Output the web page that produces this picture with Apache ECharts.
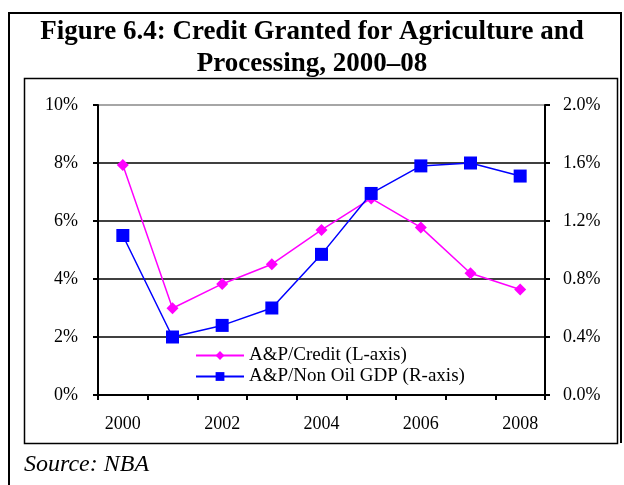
<!DOCTYPE html>
<html>
<head>
<meta charset="utf-8">
<script src="https://cdn.jsdelivr.net/npm/echarts@6/dist/echarts.min.js"></script>
<style>
	html, body { margin: 0; padding: 0; background: #fff; }
	#main { width: 624px; height: 485px; }
</style>
</head>
<body>
<div id="main"></div>
<script>
// data
var years = ['2000', '2001', '2002', '2003', '2004', '2005', '2006', '2007', '2008'];
var creditShare = [7.93, 2.99, 3.83, 4.51, 5.69, 6.78, 5.78, 4.20, 3.64];   // % , left axis
var gdpShare = [1.10, 0.40, 0.48, 0.60, 0.97, 1.39, 1.58, 1.60, 1.51];      // % , right axis
var leftTicks = [0, 2, 4, 6, 8, 10];
var rightTicks = [0, 0.4, 0.8, 1.2, 1.6, 2.0];

var serif = '"Liberation Serif", "Times New Roman", serif';

var myChart = echarts.init(document.getElementById('main'));

var option = {
	backgroundColor: '#fff',
	animation: false,
	title: {
		text: 'Figure 6.4: Credit Granted for Agriculture and\nProcessing, 2000\u201308',
		left: 'center',
		top: 11,
		textStyle: {
			fontFamily: serif,
			fontWeight: 'bold',
			fontSize: 27,
			lineHeight: 32,
			color: '#000'
		}
	},
	grid: {
		left: 98,
		right: 79,
		top: 105,
		bottom: 90
	},
	legend: {
		orient: 'vertical',
		left: 195,
		top: 346,
		padding: 0,
		itemWidth: 48,
		itemHeight: 11,
		itemGap: 2,
		textStyle: { fontFamily: serif, fontSize: 19, lineHeight: 16, color: '#000' },
		data: ['A&P/Credit (L-axis)', 'A&P/Non Oil GDP (R-axis)']
	},
	xAxis: {
		type: 'category',
		data: years,
		boundaryGap: true,
		axisLine: { lineStyle: { color: '#000', width: 2 } },
		axisTick: { show: true, interval: 0, length: 5, lineStyle: { color: '#000', width: 2 } },
		axisLabel: { interval: 1, margin: 20, fontFamily: serif, fontSize: 18, color: '#000' },
		splitLine: { show: false }
	},
	yAxis: [{
		type: 'value',
		min: leftTicks[0],
		max: leftTicks[leftTicks.length - 1],
		interval: 2,
		axisLine: { show: true, lineStyle: { color: '#000', width: 2 } },
		axisTick: { show: true, length: 5, lineStyle: { color: '#000', width: 2 } },
		axisLabel: { margin: 20, fontFamily: serif, fontSize: 18, color: '#000', formatter: '{value}%' },
		splitLine: { show: true, lineStyle: { color: ['#000', '#000', '#000', '#000', '#000', '#888'], width: 1.5 } }
	}, {
		type: 'value',
		min: rightTicks[0],
		max: rightTicks[rightTicks.length - 1],
		interval: 0.4,
		position: 'right',
		axisLine: { show: true, lineStyle: { color: '#000', width: 2 } },
		axisTick: { show: true, length: 5, lineStyle: { color: '#000', width: 2 } },
		axisLabel: {
			margin: 18, fontFamily: serif, fontSize: 18, color: '#000',
			formatter: function (v) { return v.toFixed(1) + '%'; }
		},
		splitLine: { show: false }
	}],
	series: [{
		name: 'A&P/Credit (L-axis)',
		type: 'line',
		yAxisIndex: 0,
		data: creditShare,
		symbol: 'diamond',
		symbolSize: 12,
		itemStyle: { color: '#ff00ff' },
		lineStyle: { color: '#ff00ff', width: 1.5 }
	}, {
		name: 'A&P/Non Oil GDP (R-axis)',
		type: 'line',
		yAxisIndex: 1,
		data: gdpShare,
		symbol: 'rect',
		symbolSize: 13,
		itemStyle: { color: '#0000ff' },
		lineStyle: { color: '#0000ff', width: 1.5 }
	}],
	graphic: [
		// outer frame
		{ type: 'polyline', shape: { points: [[9, 485], [9, 13], [621, 13], [621, 443]] },
		  style: { stroke: '#000', lineWidth: 2, fill: null } },
		// inner chart box
		{ type: 'rect', shape: { x: 24.5, y: 78.5, width: 593, height: 365 },
		  style: { stroke: '#000', lineWidth: 1.5, fill: null } },
		{ type: 'text', left: 24, top: 453,
		  style: { text: 'Source: NBA', font: 'italic 24px ' + serif, fill: '#000' } }
	]
};
myChart.setOption(option);
</script>
</body>
</html>
